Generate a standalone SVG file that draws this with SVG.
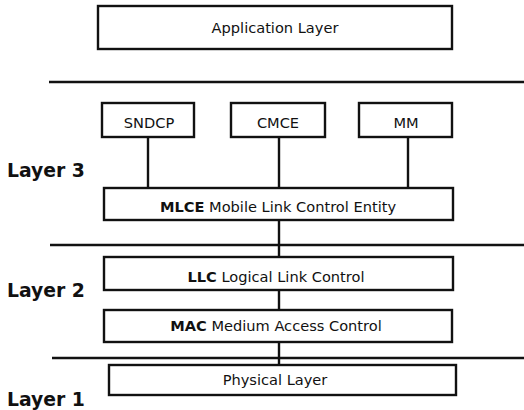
<svg xmlns="http://www.w3.org/2000/svg" width="524" height="410" viewBox="0 0 524 410">
<style>
.box{fill:#fff;stroke:#111;stroke-width:2.4}
.sep{stroke:#111;stroke-width:2.4}
.con{stroke:#111;stroke-width:2.4;fill:none}
.t{font-family:"DejaVu Sans",Verdana,sans-serif;font-size:14.6px;fill:#111;text-anchor:middle}
.b{font-weight:bold}
.lay{font-family:"DejaVu Sans",Verdana,sans-serif;font-size:18.8px;font-weight:bold;fill:#111}
</style>
<rect width="524" height="410" fill="#fff"/>
<g id="separators">
<line class="sep" x1="49" y1="82" x2="524" y2="82"/>
<line class="sep" x1="50" y1="245" x2="524" y2="245"/>
<line class="sep" x1="52" y1="358" x2="524" y2="358"/>
</g>
<g id="connectors">
<line class="con" x1="148" y1="137" x2="148" y2="188"/>
<line class="con" x1="279" y1="137" x2="279" y2="188"/>
<line class="con" x1="408" y1="137" x2="408" y2="188"/>
<line class="con" x1="279" y1="220" x2="279" y2="257"/>
<line class="con" x1="279" y1="290" x2="279" y2="310"/>
<line class="con" x1="279" y1="342" x2="279" y2="365"/>
</g>
<g id="app"><rect class="box" x="98" y="6" width="354" height="43"/><text class="t" x="275" y="33">Application Layer</text></g>
<g id="sndcp"><rect class="box" x="102" y="103" width="92" height="34"/><text class="t" x="149" y="128">SNDCP</text></g>
<g id="cmce"><rect class="box" x="231" y="103" width="94" height="34"/><text class="t" x="278" y="128">CMCE</text></g>
<g id="mm"><rect class="box" x="359" y="103" width="93" height="34"/><text class="t" x="406" y="128">MM</text></g>
<g id="mlce"><rect class="box" x="104" y="188" width="349" height="32"/><text class="t" x="278" y="212"><tspan class="b">MLCE</tspan> Mobile Link Control Entity</text></g>
<g id="llc"><rect class="box" x="104" y="257" width="349" height="33"/><text class="t" x="276" y="282"><tspan class="b">LLC</tspan> Logical Link Control</text></g>
<g id="mac"><rect class="box" x="104" y="310" width="348" height="32"/><text class="t" x="276" y="331"><tspan class="b">MAC</tspan> Medium Access Control</text></g>
<g id="phy"><rect class="box" x="109" y="365" width="347" height="30"/><text class="t" x="275" y="385">Physical Layer</text></g>
<g id="labels">
<text class="lay" x="7" y="177">Layer 3</text>
<text class="lay" x="7" y="297">Layer 2</text>
<text class="lay" x="7" y="406">Layer 1</text>
</g>
</svg>
